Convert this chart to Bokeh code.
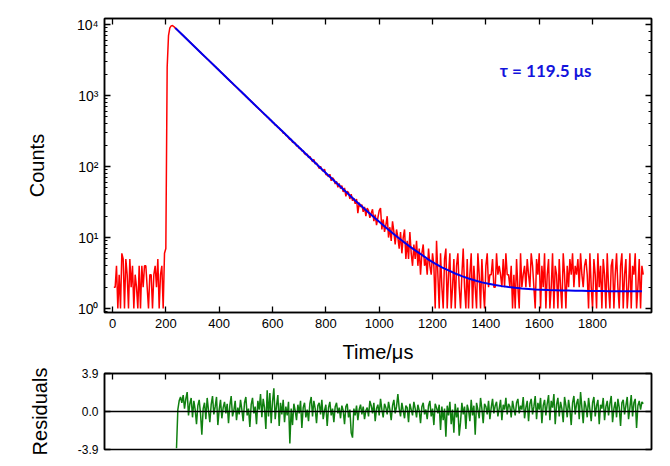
import numpy as np
from bokeh.plotting import figure
from bokeh.layouts import column
from bokeh.models import (LinearAxis, LogAxis, FixedTicker, CustomJSTickFormatter,
                          PrintfTickFormatter, Span, Label, Range1d)
from bokeh.embed import file_html
from bokeh.resources import INLINE

# ---------------- data ----------------
time_start = 5      # first channel, µs
time_step = 5       # channel width, µs
counts = [
    2, 2, 4, 1, 3, 1, 6, 5, 1, 5, 3, 1, 5, 2, 4, 1, 3, 2, 1, 4,
    1, 4, 2, 4, 4, 2, 1, 3, 3, 1, 3, 4, 2, 5, 1, 3, 4, 1, 6, 7,
    2500, 7000, 9000, 9600, 9700, 9400, 9000, 8640, 8270, 7930, 7620, 7290, 7010, 6700, 6450, 6170, 5930, 5670, 5450, 5220,
    5000, 4810, 4600, 4420, 4230, 4070, 3890, 3740, 3580, 3440, 3290, 3170, 3020, 2910, 2790, 2670, 2570, 2450, 2360, 2260,
    2170, 2070, 2000, 1910, 1840, 1750, 1690, 1620, 1550, 1490, 1420, 1370, 1310, 1260, 1200, 1160, 1110, 1060, 1025, 975,
    940, 897, 866, 825, 797, 758, 733, 697, 674, 641, 620, 590, 571, 543, 527, 500, 485, 458, 445, 420,
    409, 386, 379, 357, 349, 327, 320, 296, 297, 275, 272, 253, 240, 242, 221, 219, 214, 195, 196, 180,
    180, 166, 168, 152, 147, 150, 134, 139, 127, 117, 126, 109, 112, 103, 94, 101, 90, 86, 92, 77,
    76, 72, 78, 63, 70, 66, 57, 62, 51, 58, 49, 54, 44, 50, 38, 45, 43, 35, 41, 33,
    36, 30, 35, 22, 31, 27, 29, 23, 27, 20, 26, 24, 19, 22, 25, 17, 21, 15, 19, 24,
    26, 13, 18, 12, 15, 20, 10, 14, 9, 17, 12, 8, 13, 10, 7, 12, 6, 10, 13, 5,
    9, 5, 12, 6, 4, 8, 5, 9, 4, 7, 3, 6, 8, 4, 5, 3, 7, 4, 3, 6,
    4, 1, 9, 3, 1, 6, 2, 1, 5, 7, 1, 3, 6, 1, 2, 5, 1, 4, 6, 2,
    1, 3, 7, 2, 1, 5, 1, 3, 6, 1, 4, 2, 1, 6, 3, 1, 5, 2, 1, 4,
    6, 2, 3, 3, 5, 2, 2, 6, 3, 4, 3, 2, 5, 2, 6, 3, 3, 2, 4, 1,
    3, 1, 5, 2, 1, 6, 2, 3, 4, 2, 5, 3, 2, 6, 4, 2, 1, 5, 3, 6,
    1, 4, 2, 6, 1, 3, 5, 1, 2, 6, 1, 4, 3, 1, 5, 2, 1, 6, 3, 1,
    4, 2, 5, 3, 6, 2, 4, 3, 5, 2, 6, 3, 2, 4, 5, 3, 1, 6, 2, 1,
    5, 3, 1, 6, 2, 4, 1, 5, 3, 1, 6, 2, 1, 4, 5, 1, 3, 6, 2, 1,
    4, 6, 1, 3, 5, 1, 2, 6, 1, 4, 3, 6, 1, 2, 5, 1, 4, 3,
]

fit_start = 235     # µs
fit_step = 25       # µs
fit_counts = [
    9002, 7303, 5925, 4807, 3900, 3164, 2567, 2083, 1690, 1371,
    1113, 903, 733, 595, 483, 392, 319, 259, 210, 171,
    139, 113, 91.8, 74.8, 61.0, 49.9, 40.8, 33.4, 27.5, 22.6,
    18.7, 15.5, 12.9, 10.8, 9.1, 7.7, 6.6, 5.7, 4.9, 4.3,
    3.8, 3.45, 3.12, 2.86, 2.65, 2.48, 2.34, 2.23, 2.14, 2.07,
    2.01, 1.96, 1.92, 1.89, 1.86, 1.84, 1.82, 1.81, 1.80, 1.79,
    1.78, 1.78, 1.77, 1.77, 1.77, 1.76, 1.76, 1.76, 1.76, 1.76, 1.76,
]

resid_start = 240   # µs
resid_step = 5      # µs
residuals = [
    -3.8, 0.2, 1.1, 1.5, 0.9, 1.7, 0.3, 1.3, 2.0, -0.4, 0.8, 1.4, -0.6, 1.1, 0.2, -1.3, 0.6, 1.2, -0.2, -2.4,
    0.3, 0.9, -0.8, 1.4, 0.1, -1.1, 0.7, 1.6, -0.3, 0.5, 1.5, -1.4, 0.2, 1.2, -0.7, 0.4, 1.0, -0.2, 0.8, -1.2,
    0.6, 1.6, -0.5, 0.1, 1.1, -0.9, 0.4, -0.3, 1.2, 0.2, -1.0, 0.9, 1.5, -0.4, 0.3, -1.6, 0.7, 1.4, -0.2, 0.5,
    -1.3, 1.1, 0.2, 1.8, -0.6, 1.3, 0.4, -1.8, 2.2, -0.5, 1.9, -1.2, 1.0, 2.4, -0.8, 0.6, 1.7, -1.5, 0.9, -0.3,
    1.2, -1.1, 0.5, -0.4, 1.0, -3.3, 0.3, -1.4, 0.8, 0.1, -0.9, 0.7, -0.2, 1.1, -1.7, 0.4, 0.9, -0.6, 0.2, -1.0,
    0.8, 1.5, -0.5, 1.1, 0.3, -1.2, 0.6, 0.9, -0.3, 1.2, -0.8, 0.1, 0.7, -1.5, 0.4, 1.0, -0.4, 0.3, -1.1, 0.5,
    0.9, -0.2, 0.4, -0.7, 0.6, 0.1, -1.3, 0.5, 0.8, -0.6, 0.2, -2.2, -2.7, 0.3, -0.4, 0.6, -0.9, 0.2, 0.7, -0.3,
    0.5, -0.8, 0.1, 0.4, -0.5, 1.1, 0.6, -0.2, 0.9, -1.0, 0.3, 0.7, -0.4, 1.3, 0.2, -0.6, 0.8, 0.4, -0.3, 1.0,
    0.2, -0.9, 0.6, 1.2, -0.2, 0.5, 1.8, 0.3, -0.5, 0.9, 0.1, -0.7, 0.6, 0.4, -1.1, 0.8, 0.2, -0.4, 1.0, 0.3,
    -0.6, 0.7, 0.1, -1.2, 0.5, 0.9, -0.3, 0.2, -0.8, 0.6, 1.1, -0.5, 0.3, -1.4, 0.8, 0.4, -0.2, 0.7, -1.9, 0.5,
    -0.9, 0.3, -2.6, 0.6, -0.4, 1.0, -1.3, 0.2, -2.2, 0.8, -0.6, 0.4, -2.5, -1.1, 0.9, -0.3, 0.5, -1.8, 0.7, 0.1,
    -1.0, 1.2, -0.4, 0.6, -2.4, 0.9, 0.2, -0.7, 1.4, 0.3, -1.2, 0.8, 0.5, -0.3, 1.1, -0.8, 0.4, 1.3, -0.2, 0.6,
    1.0, -0.5, 0.3, 1.2, -0.9, 0.7, 0.2, 1.4, -0.3, 0.8, 0.5, -0.6, 1.1, 0.3, -0.4, 0.9, 1.3, -0.2, 0.6, 0.2,
    1.5, -0.7, 0.4, 1.1, -1.0, 0.8, 1.3, -0.3, 0.5, 1.6, -0.8, 0.9, 0.2, 1.4, -1.2, 0.6, 1.2, -0.4, 0.8, 1.7,
    -0.9, 1.1, 0.4, 1.8, -1.3, 0.7, 1.4, -0.5, 1.0, 0.3, -1.1, 1.5, 0.6, -0.6, 1.2, 0.2, -1.4, 0.9, 1.6, -0.3,
    0.8, 1.3, -0.8, 2.0, 0.4, -1.2, 1.1, 0.5, -0.6, 1.4, 0.2, -1.0, 0.9, 1.5, -0.5, 0.6, 1.2, -1.3, 0.7, 0.3,
    1.4, -0.9, 0.5, 1.1, -0.4, 0.8, 1.6, -1.1, 0.3, 1.0, -0.6, 1.3, 0.4, -1.5, 0.9, 1.2, -0.3, 0.6, 1.5, -0.8,
    0.4, 1.7, -0.5, 0.9, 1.3, -1.7, 0.6, 1.1, 0.2, 1.0, 0.8,
]

x_ticks = [0, 200, 400, 600, 800, 1000, 1200, 1400, 1600, 1800]
resid_ticks = [-3.9, 0.0, 3.9]
tau_text = "τ = 119.5 μs"

# channel grids
t_counts = time_start + time_step * np.arange(len(counts))
t_fit = fit_start + fit_step * np.arange(len(fit_counts))
t_resid = resid_start + resid_step * np.arange(len(residuals))

FONT = "Liberation Sans"


def style_axis(ax, labels=True, minor=False, size="13px"):
    ax.axis_line_color = "black"
    ax.axis_line_width = 1.5
    ax.major_tick_in = 6
    ax.major_tick_out = 0
    ax.major_tick_line_color = "black"
    ax.major_tick_line_width = 1.3
    if minor:
        ax.minor_tick_in = 3
        ax.minor_tick_out = 0
        ax.minor_tick_line_color = "black"
        ax.minor_tick_line_width = 1.2
    else:
        ax.minor_tick_line_color = None
    ax.major_label_text_font = FONT
    if labels:
        ax.major_label_text_color = "black"
        ax.major_label_text_font_size = size
        ax.major_label_standoff = 6
    else:
        ax.major_label_text_color = "black"
        ax.major_label_text_alpha = 0.0
        ax.major_label_text_font_size = "1px"
        ax.major_label_standoff = 0
    ax.axis_label_text_font = FONT
    ax.axis_label_text_font_style = "normal"
    ax.axis_label_text_font_size = "20px"
    ax.axis_label_text_color = "black"


log_fmt = CustomJSTickFormatter(code="""
const sup = {"0":"\u2070","1":"\u00b9","2":"\u00b2","3":"\u00b3","4":"\u2074",
             "5":"\u2075","6":"\u2076","7":"\u2077","8":"\u2078","9":"\u2079","-":"\u207b"};
const e = Math.round(Math.log10(tick));
return "10" + String(e).split("").map(c => sup[c]).join("");
""")

# ---------------- top panel ----------------
p1 = figure(width=662, height=365, y_axis_type="log",
            x_range=Range1d(-30, 2021), y_range=Range1d(0.88, 12200),
            output_backend="svg", toolbar_location=None,
            min_border_left=104, min_border_right=11,
            min_border_top=18, min_border_bottom=53)
p1.grid.visible = False
p1.outline_line_color = "black"
p1.outline_line_width = 1.5

p1.line(t_counts, counts, color="#ff0000", line_width=1.5)
p1.line(t_fit, fit_counts, color="#0000ee", line_width=2)

xa = p1.xaxis[0]
xa.ticker = FixedTicker(ticks=x_ticks)
style_axis(xa)
xa.axis_label = "Time/μs"
xa.axis_label_standoff = 10

ya = p1.yaxis[0]
ya.formatter = log_fmt
style_axis(ya, minor=True, size="14px")
ya.axis_label = "Counts"
ya.axis_label_standoff = 26

top_ax = LinearAxis(ticker=FixedTicker(ticks=x_ticks))
style_axis(top_ax, labels=False)
p1.add_layout(top_ax, "above")

right_ax = LogAxis()
style_axis(right_ax, labels=False, minor=True)
p1.add_layout(right_ax, "right")

p1.add_layout(Label(x=1624, y=2249, text=tau_text, text_font="Lato",
                    text_font_style="bold", text_font_size="17px",
                    text_color="#1414dc", text_align="center",
                    text_baseline="middle"))

# ---------------- residual panel ----------------
p2 = figure(width=662, height=99, x_range=p1.x_range,
            y_range=Range1d(-3.92, 3.92), x_axis_location="above",
            output_backend="svg", toolbar_location=None,
            min_border_left=104, min_border_right=11,
            min_border_top=8, min_border_bottom=15)
p2.grid.visible = False
p2.outline_line_color = "black"
p2.outline_line_width = 1.5

p2.add_layout(Span(location=0, dimension="width", line_color="black", line_width=1.5))
p2.line(t_resid, residuals, color="#108010", line_width=1.5)

xa2 = p2.xaxis[0]
xa2.ticker = FixedTicker(ticks=x_ticks)
style_axis(xa2, labels=False)

ya2 = p2.yaxis[0]
ya2.ticker = FixedTicker(ticks=resid_ticks)
ya2.formatter = PrintfTickFormatter(format="%.1f")
style_axis(ya2, size="12px")
ya2.axis_label = "Residuals"
ya2.axis_label_standoff = 24

r2 = LinearAxis(ticker=FixedTicker(ticks=resid_ticks))
style_axis(r2, labels=False)
p2.add_layout(r2, "right")

layout = column(p1, p2)
open("out.html", "w").write(file_html(layout, INLINE))
